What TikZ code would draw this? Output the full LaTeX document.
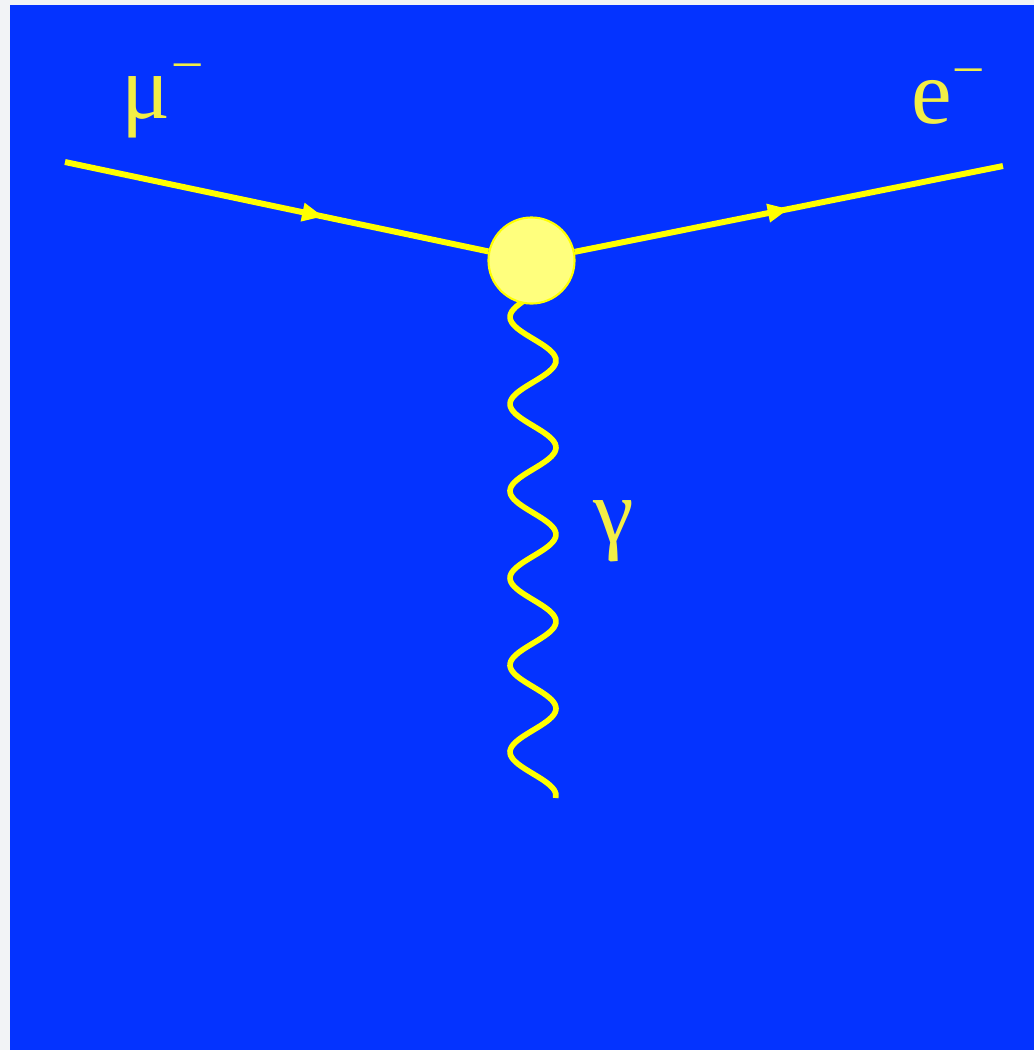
\documentclass[tikz,border=0pt]{standalone}
\usepackage{fontspec}
\setmainfont{Liberation Serif}
\usetikzlibrary{arrows.meta, decorations.markings}

\definecolor{pagegray}{RGB}{242,243,246}
\definecolor{slideblue}{RGB}{4,51,255}
\definecolor{lineyellow}{RGB}{255,255,0}
\definecolor{blobyellow}{RGB}{255,255,125}
\definecolor{textyellow}{RGB}{242,238,70}

\newcommand{\minus}{\raisebox{11.5pt}{\fontsize{15}{15}\selectfont –}}

\begin{document}
\begin{tikzpicture}[
    x=0.01cm, y=-0.01cm,
    fermion/.style={draw=lineyellow, line width=1.7pt, postaction={decorate},
      decoration={markings, mark=at position #1 with {\arrow{Triangle[length=6pt,width=5pt]}}}},
    photon/.style={draw=lineyellow, line width=1.6pt},
    vertex/.style={circle, draw=lineyellow, fill=blobyellow, line width=0.6pt, minimum size=0.86cm, inner sep=0pt},
    lbl/.style={text=textyellow, font=\fontsize{26}{30}\selectfont, inner sep=0pt, anchor=base west}
]
\useasboundingbox (0,0) rectangle (1034,1050);
\fill[pagegray] (0,0) rectangle (1034,1050);
\fill[slideblue] (10,5) rectangle (1034,1050);

%  -- photon leg (under the blob)  --
\draw[photon] plot[variable=\t, domain=290:798, samples=120, smooth]
  ({533-23*cos(4.1379*(\t-317))}, \t) coordinate (gend);

%  -- vertex and external legs  --
\node[vertex] (v) at (531.5,260.5) {};
\coordinate (mu) at (65,162);
\coordinate (el) at (1003,166);

\draw[fermion=0.61] (mu) -- (v);
\draw[fermion=0.50] (v) -- (el);

%  -- labels  --
\node[lbl] (lmu) at (121,118) {μ\kern1pt\minus};
\node[lbl] (lel) at (911,123) {e\kern1pt\minus};
\node[lbl] (lga) at (593,542) {γ};

\end{tikzpicture}
\end{document}
